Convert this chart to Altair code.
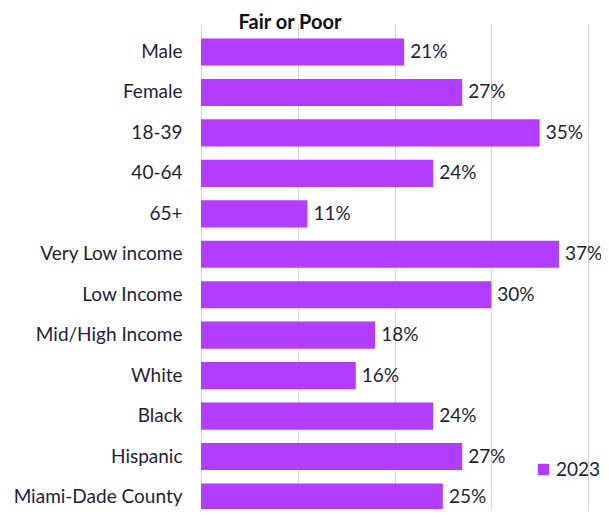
import altair as alt
import pandas as pd

categories = ["Male", "Female", "18-39", "40-64", "65+", "Very Low income",
              "Low Income", "Mid/High Income", "White", "Black", "Hispanic",
              "Miami-Dade County"]
values = [21, 27, 35, 24, 11, 37, 30, 18, 16, 24, 27, 25]
series = "2023"
title_text = "Fair or Poor"
grid_values = [0, 10, 20, 30, 40]

df = pd.DataFrame({"cat": categories, "val": values, "series": series})
df["label"] = df["val"].astype(str) + "%"

FONT = "Lato"
PURPLE = "#B23DFF"
TEXT = "#1E1E3C"

base = alt.Chart(df).encode(
    y=alt.Y("cat:N", sort=categories,
            scale=alt.Scale(paddingInner=0.33, paddingOuter=0.16, range=[0, 485]),
            axis=alt.Axis(title=None, ticks=False, domain=False, grid=False,
                          labelFontSize=19, labelPadding=19, labelColor=TEXT,
                          labelFont=FONT)),
    x=alt.X("val:Q", scale=alt.Scale(domain=[0, 40], nice=False),
            axis=alt.Axis(title=None, labels=False, ticks=False, domain=False,
                          grid=True, gridColor="#D6D6D6", gridWidth=1,
                          values=grid_values)),
)

bars = base.mark_bar(color=PURPLE).encode(
    color=alt.Color("series:N", scale=alt.Scale(range=[PURPLE]),
                    legend=alt.Legend(title=None, orient="none", legendX=333,
                                      legendY=428, symbolType="square",
                                      symbolSize=130, labelFontSize=19,
                                      labelFont=FONT, labelColor=TEXT,
                                      symbolStrokeWidth=0, labelOffset=3))
)

labels = base.mark_text(align="left", baseline="middle", dx=6, fontSize=19,
                        font=FONT, color=TEXT).encode(text="label:N")

title = alt.Chart(pd.DataFrame({"t": [title_text]})).mark_text(
    align="center", baseline="alphabetic", fontSize=20, fontWeight="bold",
    font=FONT, color="#111111"
).encode(x=alt.value(89), y=alt.value(-3), text="t:N")

chart = alt.layer(bars, labels, title).properties(
    width=387, height=477,
    padding={"left": 193, "top": 24, "right": 13, "bottom": 0},
    autosize=alt.AutoSizeParams(type="none"),
).configure_view(stroke=None)

chart.save("out.html", embed_options={"renderer": "svg", "actions": False})
